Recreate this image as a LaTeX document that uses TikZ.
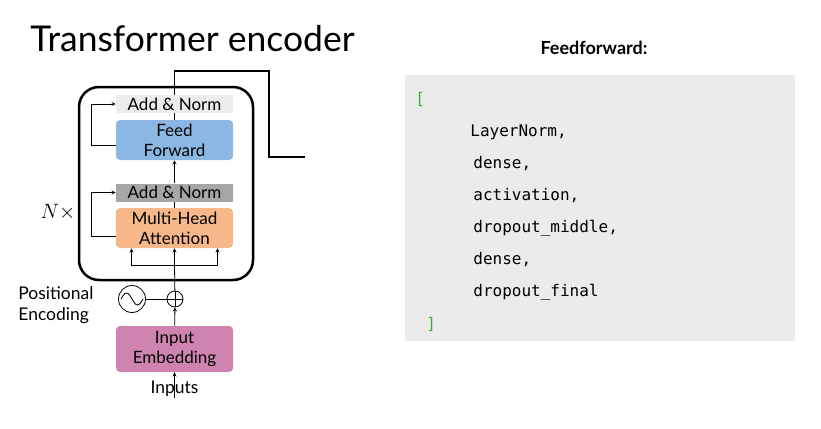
\documentclass[tikz,border=0pt]{standalone}
\usepackage{fontspec}
\setmainfont{Lato}
\setmonofont{DejaVu Sans Mono}
\usetikzlibrary{positioning}

\definecolor{ffblue}{RGB}{141,183,227}
\definecolor{mhaorange}{RGB}{247,184,137}
\definecolor{embpink}{RGB}{206,132,175}
\definecolor{normdark}{RGB}{166,166,166}
\definecolor{normlight}{RGB}{236,236,236}
\definecolor{codebg}{RGB}{235,235,235}
\definecolor{bracketgreen}{RGB}{64,168,64}

\begin{document}
\begin{tikzpicture}[x=1pt,y=-1pt,>=stealth,thick,
    block/.style={
% The shape:
rectangle, rounded corners=4pt,
% The size:
minimum width=117pt,
inner sep=0pt, align=center,
font=\fontsize{17}{20}\selectfont
},
    norm/.style={
% The shape:
rectangle,
% The size:
minimum width=117pt,
minimum height=18pt,
inner sep=0pt,
font=\fontsize{17}{20}\selectfont
},
    encoder/.style={
% The shape:
rectangle, rounded corners=20pt,
% The size:
minimum width=174pt,
minimum height=193pt,
% The border:
line width=2.5pt, draw,
},
    codeline/.style={anchor=base west, inner sep=0pt, font=\ttfamily\fontsize{16}{19}\selectfont},
    link/.style={line width=1.6pt},
]
  \useasboundingbox (0,0) rectangle (821,428);

  \node[anchor=base west, inner sep=0pt, font=\fontsize{35.5}{40}\selectfont] (title) at (30,52) {Transformer encoder};

  % encoder
  \node[encoder]                      (enc) at (166,183.5) {};
  \node[norm,fill=normlight]          (addnorm2) at (174.5,104) {Add \& Norm};
  \node[block,fill=ffblue,minimum height=40pt]    (ff) at (174.5,140) {Feed\\Forward};
  \node[norm,fill=normdark]           (addnorm1) at (174.5,192.5) {Add \& Norm};
  \node[block,fill=mhaorange,minimum height=40pt] (mha) at (174.5,228) {Multi-Head\\Attention};
  \node[font=\fontsize{20}{22}\selectfont] (n) at (58,212) {$N\times$};

  % input side
  \node[block,fill=embpink,minimum height=46pt]   (embed) at (174.5,349) {Input\\Embedding};
  \node[circle,draw,minimum size=16pt,inner sep=0pt] (plus) at (175,299) {};
  \node[circle,draw,minimum size=27pt,inner sep=0pt] (pe) at (132,299) {};
  \node[anchor=west, align=left, inner sep=0pt, font=\fontsize{17.5}{21}\selectfont] (pelabel) at (18,305) {Positional\\Encoding};
  \node[font=\fontsize{17.5}{20}\selectfont, inner sep=0pt] (inputs) at (174.5,389) {Inputs};
  \coordinate (in) at (174.5,398);
  \coordinate (fork) at (174.5,265);

  \draw (plus.north) -- (plus.south);
  \draw (plus.west) -- (plus.east);
  \draw[shift={(pe.center)}] (-11,0) sin (-5.5,-6) cos (0,0) sin (5.5,6) cos (11,0);

  \draw[->] (in)     -> (embed);
  \draw[->] (embed)  -> (plus);
  \draw     (pe)     -- (plus);
  \draw     (plus)   -- (fork);
  \draw[->] (fork)   -> (mha);
  \draw[->] (fork)   -| ([xshift=-43pt]mha.south);
  \draw[->] (fork)   -| ([xshift=43pt]mha.south);
  \draw     (mha)    -- (addnorm1);
  \draw[->] (addnorm1) -> (ff);
  \draw     (ff)     -- (addnorm2);
  \draw[->] ([yshift=-8pt]mha.west) -- ++(-24,0) |- (addnorm1.west);
  \draw[->] ([yshift=-5pt]ff.west)  -- ++(-24,0) |- (addnorm2.west);

  % feedforward code
  \coordinate (top) at (174.5,71);
  \coordinate (ffcode) at (305,157);
  \draw[link] (addnorm2.north) -- (top) -| ([xshift=-36pt]ffcode) -- (ffcode);

  \node[font=\bfseries\fontsize{18}{21}\selectfont] (fftitle) at (594,48) {Feedforward:};
  \node[fill=codebg, minimum width=390pt, minimum height=266pt, inner sep=0pt] (code) at (600,208) {};
  \node[codeline, text=bracketgreen] (open)  at (415,104) {[};
  \node[codeline] (l1) at (470,136) {LayerNorm,};
  \node[codeline] (l2) at (473,168) {dense,};
  \node[codeline] (l3) at (473,200) {activation,};
  \node[codeline] (l4) at (473,232) {dropout\_middle,};
  \node[codeline] (l5) at (473,264) {dense,};
  \node[codeline] (l6) at (473,296) {dropout\_final};
  \node[codeline, text=bracketgreen] (close) at (426,329) {]};
\end{tikzpicture}
\end{document}
